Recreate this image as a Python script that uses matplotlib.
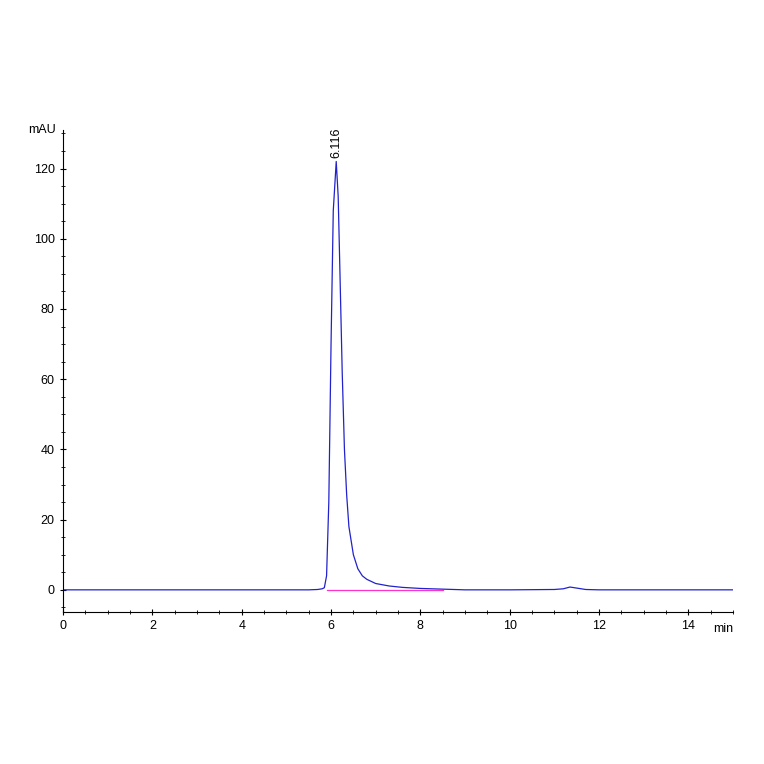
import numpy as np
import matplotlib.pyplot as plt
from matplotlib.ticker import MultipleLocator

plt.rcParams['font.family'] = ['Liberation Sans', 'DejaVu Sans']

# chromatogram trace
time_min = [0, 5.5, 5.7, 5.8, 5.85, 5.9, 5.95, 6.0, 6.05, 6.116, 6.16, 6.2, 6.25,
            6.3, 6.35, 6.4, 6.5, 6.6, 6.7, 6.8, 7.0, 7.3, 7.6, 8.0, 8.5, 9.0,
            10.0, 11.0, 11.2, 11.35, 11.5, 11.7, 12.0, 15.0]
signal_mau = [0, 0, 0.1, 0.3, 0.6, 4, 25, 70, 108, 122, 112, 90, 62,
              40, 27, 18, 10, 6, 4, 3, 1.8, 1.1, 0.7, 0.4, 0.2, 0.0,
              0.0, 0.1, 0.3, 0.8, 0.5, 0.1, 0, 0]
baseline_t = [5.9, 8.5]
baseline_y = [0, 0]
peak_rt = 6.116
peak_label = '6.116'

fig = plt.figure(figsize=(7.64, 7.64), dpi=100)
ax = fig.add_axes([0.0825, 0.199, 0.877, 0.631])

ax.plot(baseline_t, baseline_y, color='#ff33cc', linewidth=0.9)
ax.plot(time_min, signal_mau, color='#2222cc', linewidth=0.9)

ax.set_xlim(0, 15)
ax.set_ylim(-6.3, 131)
for s in ['top', 'right']:
    ax.spines[s].set_visible(False)
ax.spines['left'].set_bounds(-6.3, 131)
ax.xaxis.set_major_locator(MultipleLocator(2))
ax.xaxis.set_minor_locator(MultipleLocator(0.5))
ax.yaxis.set_major_locator(MultipleLocator(20))
ax.yaxis.set_minor_locator(MultipleLocator(5))
ax.set_xticks([0, 2, 4, 6, 8, 10, 12, 14])
ax.tick_params(axis='both', which='major', labelsize=9, length=5, direction='inout')
ax.tick_params(axis='both', which='minor', length=3, direction='inout')
ax.set_yticks([0, 20, 40, 60, 80, 100, 120])

ax.text(-0.01, 131, 'mAU', ha='right', va='center', fontsize=9,
        transform=ax.get_yaxis_transform())
ax.text(15, -9.5, 'min', ha='right', va='top', fontsize=9)
ax.text(peak_rt, 123, peak_label, rotation=90, ha='center', va='bottom', fontsize=9)

fig.savefig('out.png', dpi=100)
